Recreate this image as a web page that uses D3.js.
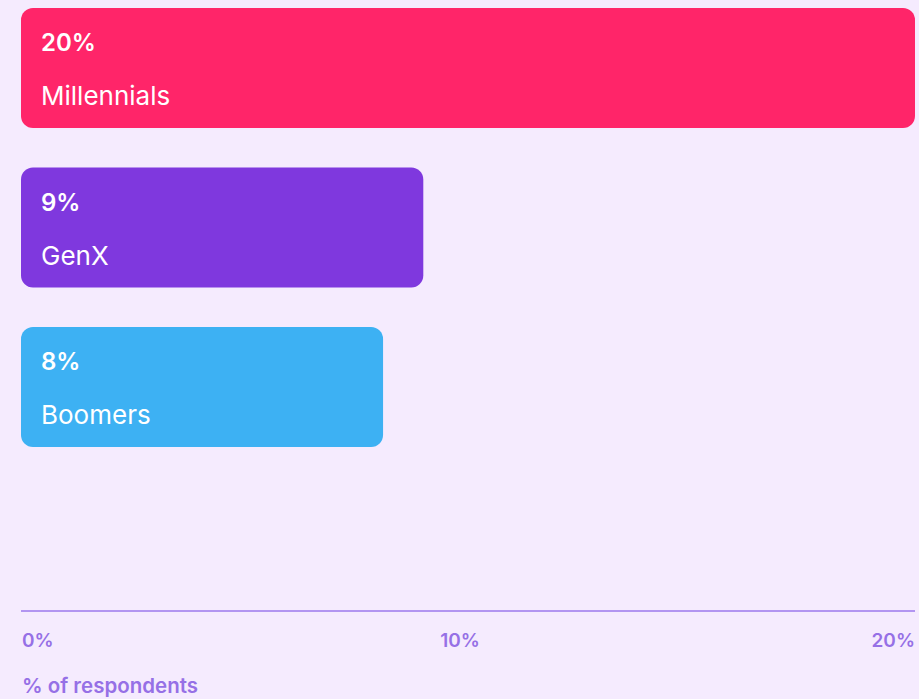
<!DOCTYPE html>
<html>
<head>
<meta charset="utf-8">
<script src="https://cdn.jsdelivr.net/npm/d3@7"></script>
<style>
  html, body { margin: 0; padding: 0; background: #f5ebfe; }
  svg { display: block; font-family: Inter, "Noto Sans", sans-serif; }
</style>
</head>
<body>
<svg id="chart" width="919" height="699"></svg>
<script>
var categories = ["Millennials", "GenX", "Boomers"];
var values = [20, 9, 8.1];
var valueLabels = ["20%", "9%", "8%"];
var colors = ["#ff2569", "#7f38de", "#3db1f3"];
var tickValues = [0, 10, 20];
var tickLabels = ["0%", "10%", "20%"];

var svg = d3.select("#chart"),
    width = +svg.attr("width"),
    height = +svg.attr("height");

var x = d3.scaleLinear()
    .domain([0, 20])
    .range([21, 915]);

var y = d3.scaleBand()
    .domain(categories)
    .range([8, 447])
    .paddingInner(0.248);

var bars = svg.selectAll("g.bar")
  .data(categories)
  .enter().append("g")
    .attr("class", "bar");

bars.append("rect")
    .attr("x", x(0))
    .attr("y", d => y(d))
    .attr("width", (d, i) => x(values[i]) - x(0))
    .attr("height", y.bandwidth())
    .attr("rx", 12)
    .attr("fill", (d, i) => colors[i]);

bars.append("text")
    .attr("x", x(0) + 20)
    .attr("y", d => y(d) + 43)
    .attr("fill", "#fff")
    .attr("font-size", 24)
    .attr("font-weight", 600)
    .text((d, i) => valueLabels[i]);

bars.append("text")
    .attr("x", x(0) + 20)
    .attr("y", d => y(d) + 97)
    .attr("fill", "#fff")
    .attr("font-size", 26)
    .attr("font-weight", 400)
    .text(d => d);

// axis
svg.append("line")
    .attr("x1", x(0))
    .attr("x2", x(20))
    .attr("y1", 611)
    .attr("y2", 611)
    .attr("stroke", "#b295f1")
    .attr("stroke-width", 2);

svg.selectAll("text.tick")
  .data(tickValues)
  .enter().append("text")
    .attr("class", "tick")
    .attr("x", (d, i) => i === 0 ? x(d) + 1 : i === tickValues.length - 1 ? x(d) : x(d) - 8)
    .attr("y", 647)
    .attr("text-anchor", (d, i) => i === 0 ? "start" : i === tickValues.length - 1 ? "end" : "middle")
    .attr("fill", "#9670e6")
    .attr("font-size", 19)
    .attr("font-weight", 600)
    .text((d, i) => tickLabels[i]);

svg.append("text")
    .attr("x", x(0) + 1)
    .attr("y", 693)
    .attr("fill", "#9670e6")
    .attr("font-size", 20.5)
    .attr("font-weight", 600)
    .text("% of respondents");
</script>
</body>
</html>
